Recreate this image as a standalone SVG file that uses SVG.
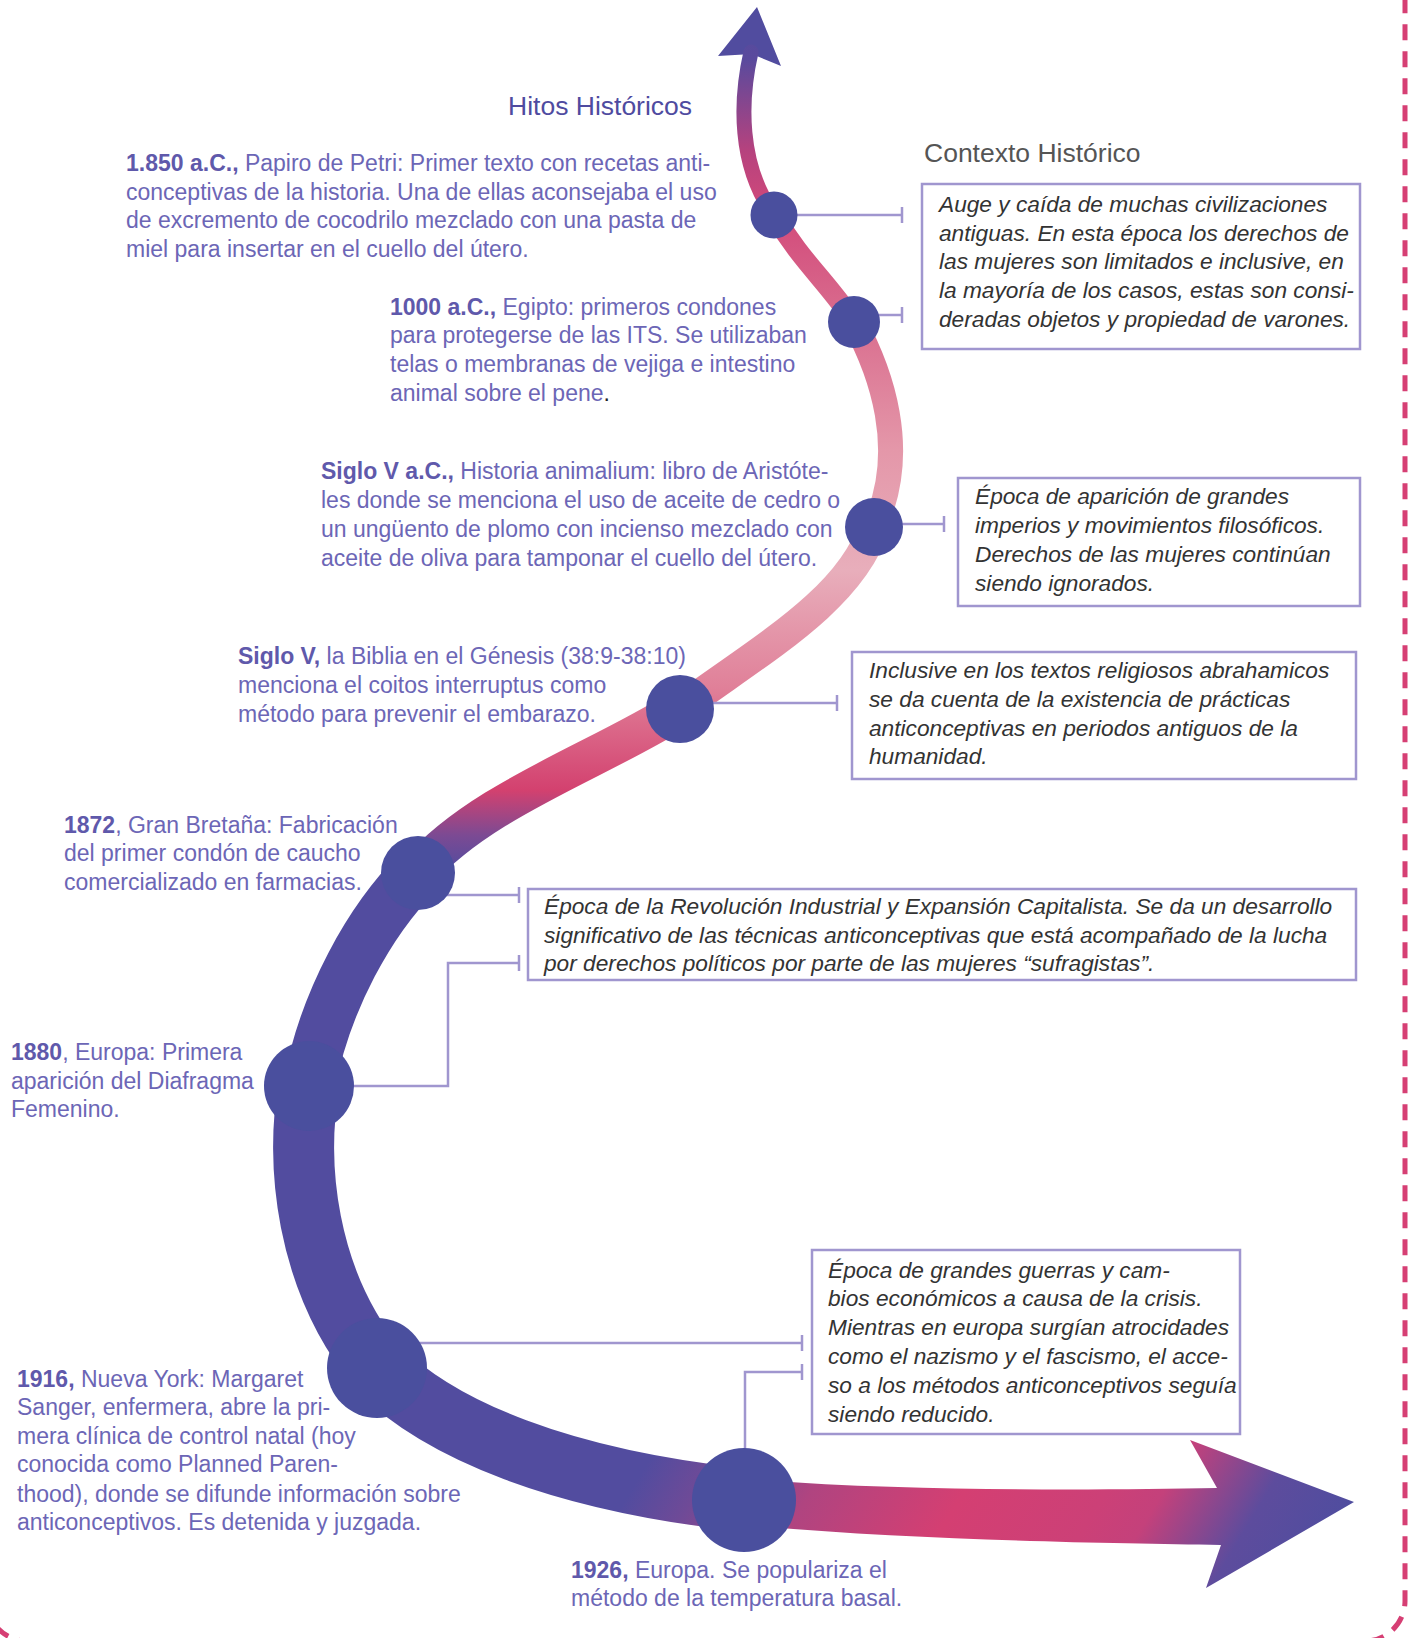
<svg xmlns="http://www.w3.org/2000/svg" width="1408" height="1638" viewBox="0 0 1408 1638">
<defs>
<style>
.m{font-family:"Liberation Sans",Arial,sans-serif;font-size:23px;fill:#6c66b6}
.m .b{font-weight:bold;fill:#5f59ab}
.c{font-family:"Liberation Sans",Arial,sans-serif;font-size:22.7px;font-style:italic;fill:#333333}
.t1{font-family:"Liberation Sans",Arial,sans-serif;font-size:26.5px;fill:#4f4ba0}
.t2{font-family:"Liberation Sans",Arial,sans-serif;font-size:26.5px;fill:#555555}
.box{fill:#ffffff;stroke:#a096cf;stroke-width:2.5}
.dot{fill:#4a4f9e}
.con{fill:none;stroke:#a096cf;stroke-width:2.5}
.band{fill:none;stroke-linecap:round}
</style>
<linearGradient id="gTop" gradientUnits="userSpaceOnUse" x1="0" y1="0" x2="0" y2="880">
<stop offset="0" stop-color="#514c9f"/>
<stop offset="0.068" stop-color="#5a4a9d"/>
<stop offset="0.17" stop-color="#b5427e"/>
<stop offset="0.239" stop-color="#d2497a"/>
<stop offset="0.375" stop-color="#da7090"/>
<stop offset="0.511" stop-color="#e497a9"/>
<stop offset="0.648" stop-color="#e8aebb"/>
<stop offset="0.784" stop-color="#e07f98"/>
<stop offset="0.898" stop-color="#d3416f"/>
<stop offset="0.949" stop-color="#7c4a93"/>
<stop offset="0.989" stop-color="#524c9f"/>
</linearGradient>
<linearGradient id="gBot" gradientUnits="userSpaceOnUse" x1="650" y1="1300" x2="1350" y2="1720">
<stop offset="0.1" stop-color="#524c9f"/>
<stop offset="0.17" stop-color="#6f4a97"/>
<stop offset="0.29" stop-color="#b04480"/>
<stop offset="0.45" stop-color="#d43f72"/>
<stop offset="0.6" stop-color="#cc4077"/>
<stop offset="0.66" stop-color="#c4417b"/>
<stop offset="0.77" stop-color="#5d4c9d"/>
<stop offset="0.87" stop-color="#4f4d9f"/>
</linearGradient>
<marker id="tick" viewBox="0 0 4 16" refX="2" refY="8" markerWidth="4" markerHeight="16" markerUnits="userSpaceOnUse" orient="auto">
<path d="M2,0 V16" stroke="#a096cf" stroke-width="2.5"/>
</marker>
</defs>

<rect x="-13" y="-100" width="1418" height="1741" rx="40" fill="none" stroke="#d63f74" stroke-width="5" stroke-dasharray="16 11"/>

<g id="timeline">
<path d="M757 7 L781 66 L752 54 L718 56 Z" fill="#514c9f"/>
<path class="band" stroke="url(#gTop)" stroke-width="15" d="M751 52 C740 100 738 165 774 215"/>
<path class="band" stroke="url(#gTop)" stroke-width="20" d="M774 215 C800 260 830 285 854 322"/>
<path class="band" stroke="url(#gTop)" stroke-width="25" d="M854 322 C880 370 910 450 874 527"/>
<path class="band" stroke="url(#gTop)" stroke-width="31" d="M874 527 C850 600 760 650 680 709"/>
<path class="band" stroke="url(#gTop)" stroke-width="39" d="M680 709 C600 760 480 800 418 872"/>
<path class="band" stroke="#524c9f" stroke-width="52" d="M418 872 C370 920 325 1000 309 1086"/>
<path class="band" stroke="#524c9f" stroke-width="61" d="M309 1086 C295 1160 305 1280 378 1368"/>
<path class="band" stroke="url(#gBot)" stroke-width="63" d="M378 1368 C440 1430 560 1480 744 1500"/>
<path fill="url(#gBot)" d="M735 1478 C900 1492 1100 1490 1217 1488 L1190 1440 L1354 1502 L1206 1588 L1221 1545 C1100 1543 900 1540 735 1524 Z"/>
</g>

<g id="connectors">
<path class="con" marker-end="url(#tick)" d="M790 215 H902"/>
<path class="con" marker-end="url(#tick)" d="M870 315 H902"/>
<path class="con" marker-end="url(#tick)" d="M895 524 H944"/>
<path class="con" marker-end="url(#tick)" d="M705 703 H837"/>
<path class="con" marker-end="url(#tick)" d="M440 895 H519"/>
<path class="con" marker-end="url(#tick)" d="M345 1086 H448 V963 H519"/>
<path class="con" marker-end="url(#tick)" d="M415 1343 H802"/>
<path class="con" marker-end="url(#tick)" d="M745 1455 V1372 H802"/>
</g>

<g id="titles">
<text class="t1" x="508" y="115">Hitos Históricos</text>
<text class="t2" x="924" y="162">Contexto Histórico</text>
</g>

<g id="m1">
<circle class="dot" cx="774" cy="215" r="23.5"/>
<text class="m"><tspan x="126" y="171"><tspan class="b">1.850 a.C.,</tspan> Papiro de Petri: Primer texto con recetas anti-</tspan><tspan x="126" y="200">conceptivas de la historia. Una de ellas aconsejaba el uso</tspan><tspan x="126" y="228">de excremento de cocodrilo mezclado con una pasta de</tspan><tspan x="126" y="257">miel para insertar en el cuello del útero.</tspan></text>
</g>
<g id="m2">
<circle class="dot" cx="854" cy="322" r="26"/>
<text class="m"><tspan x="390" y="315"><tspan class="b">1000 a.C.,</tspan> Egipto: primeros condones</tspan><tspan x="390" y="343">para protegerse de las ITS. Se utilizaban</tspan><tspan x="390" y="372">telas o membranas de vejiga e intestino</tspan><tspan x="390" y="401">animal sobre el pene<tspan fill="#222222">.</tspan></tspan></text>
</g>
<g id="m3">
<circle class="dot" cx="874" cy="527" r="29"/>
<text class="m"><tspan x="321" y="479"><tspan class="b">Siglo V a.C.,</tspan> Historia animalium: libro de Aristóte-</tspan><tspan x="321" y="508">les donde se menciona el uso de aceite de cedro o</tspan><tspan x="321" y="537">un ungüento de plomo con incienso mezclado con</tspan><tspan x="321" y="566">aceite de oliva para tamponar el cuello del útero.</tspan></text>
</g>
<g id="m4">
<circle class="dot" cx="680" cy="709" r="34"/>
<text class="m"><tspan x="238" y="664"><tspan class="b">Siglo V,</tspan> la Biblia en el Génesis (38:9-38:10)</tspan><tspan x="238" y="693">menciona el coitos interruptus como</tspan><tspan x="238" y="722">método para prevenir el embarazo.</tspan></text>
</g>
<g id="m5">
<circle class="dot" cx="418" cy="873" r="37"/>
<text class="m"><tspan x="64" y="833"><tspan class="b">1872</tspan>, Gran Bretaña: Fabricación</tspan><tspan x="64" y="861">del primer condón de caucho</tspan><tspan x="64" y="890">comercializado en farmacias.</tspan></text>
</g>
<g id="m6">
<circle class="dot" cx="309" cy="1086" r="45"/>
<text class="m"><tspan x="11" y="1060"><tspan class="b">1880</tspan>, Europa: Primera</tspan><tspan x="11" y="1089">aparición del Diafragma</tspan><tspan x="11" y="1117">Femenino.</tspan></text>
</g>
<g id="m7">
<circle class="dot" cx="377" cy="1368" r="50"/>
<text class="m"><tspan x="17" y="1387"><tspan class="b">1916,</tspan> Nueva York: Margaret</tspan><tspan x="17" y="1415">Sanger, enfermera, abre la pri-</tspan><tspan x="17" y="1444">mera clínica de control natal (hoy</tspan><tspan x="17" y="1472">conocida como Planned Paren-</tspan><tspan x="17" y="1502">thood), donde se difunde información sobre</tspan><tspan x="17" y="1530">anticonceptivos. Es detenida y juzgada.</tspan></text>
</g>
<g id="m8">
<circle class="dot" cx="744" cy="1500" r="52"/>
<text class="m"><tspan x="571" y="1578"><tspan class="b">1926,</tspan> Europa. Se populariza el</tspan><tspan x="571" y="1606">método de la temperatura basal.</tspan></text>
</g>

<g id="ctx1">
<rect class="box" x="922" y="184" width="438" height="165"/>
<text class="c"><tspan x="939" y="212">Auge y caída de muchas civilizaciones</tspan><tspan x="939" y="241">antiguas. En esta época los derechos de</tspan><tspan x="939" y="269">las mujeres son limitados e inclusive, en</tspan><tspan x="939" y="298">la mayoría de los casos, estas son consi-</tspan><tspan x="939" y="327">deradas objetos y propiedad de varones.</tspan></text>
</g>
<g id="ctx2">
<rect class="box" x="958" y="478" width="402" height="128"/>
<text class="c"><tspan x="975" y="504">Época de aparición de grandes</tspan><tspan x="975" y="533">imperios y movimientos filosóficos.</tspan><tspan x="975" y="562">Derechos de las mujeres continúan</tspan><tspan x="975" y="591">siendo ignorados.</tspan></text>
</g>
<g id="ctx3">
<rect class="box" x="852" y="652" width="504" height="127"/>
<text class="c"><tspan x="869" y="678">Inclusive en los textos religiosos abrahamicos</tspan><tspan x="869" y="707">se da cuenta de la existencia de prácticas</tspan><tspan x="869" y="736">anticonceptivas en periodos antiguos de la</tspan><tspan x="869" y="764">humanidad.</tspan></text>
</g>
<g id="ctx4">
<rect class="box" x="528" y="889" width="828" height="91"/>
<text class="c"><tspan x="544" y="914">Época de la Revolución Industrial y Expansión Capitalista. Se da un desarrollo</tspan><tspan x="544" y="943">significativo de las técnicas anticonceptivas que está acompañado de la lucha</tspan><tspan x="544" y="971">por derechos políticos por parte de las mujeres “sufragistas”.</tspan></text>
</g>
<g id="ctx5">
<rect class="box" x="812" y="1250" width="428" height="184"/>
<text class="c"><tspan x="828" y="1278">Época de grandes guerras y cam-</tspan><tspan x="828" y="1306">bios económicos a causa de la crisis.</tspan><tspan x="828" y="1335">Mientras en europa surgían atrocidades</tspan><tspan x="828" y="1364">como el nazismo y el fascismo, el acce-</tspan><tspan x="828" y="1393">so a los métodos anticonceptivos seguía</tspan><tspan x="828" y="1422">siendo reducido.</tspan></text>
</g>
</svg>
